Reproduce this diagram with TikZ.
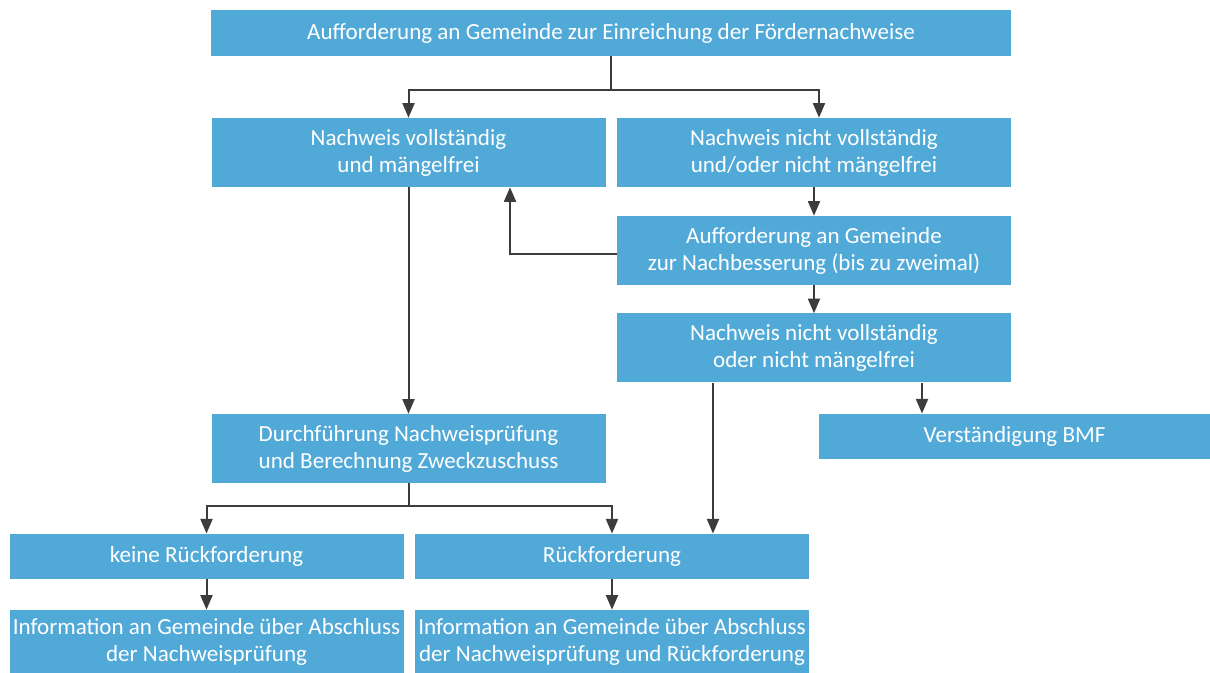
\documentclass[tikz,border=0pt]{standalone}
\usepackage{fontspec}
\setmainfont{Carlito}
\usetikzlibrary{arrows.meta,calc}
\definecolor{boxblue}{RGB}{81,169,216}
\definecolor{linegrey}{RGB}{60,60,60}
\begin{document}
\begin{tikzpicture}[x=0.75pt,y=-0.75pt,
  box/.style={fill=boxblue,draw=none,inner sep=0pt,text=white,align=center,
    font=\fontsize{17.3}{20.25}\selectfont},
  wide/.style={box,minimum width=295.5pt},
  tall/.style={minimum height=51.75pt},
  flat/.style={minimum height=34pt},
  conn/.style={draw=linegrey,line width=1.5pt},
  arr/.style={conn,-{Triangle[length=11pt,width=9pt]}}]
\useasboundingbox (0,0) rectangle (1210,673);
\node[box,minimum width=600pt,minimum height=34.5pt] (b1) at (611,33) {Aufforderung an Gemeinde zur Einreichung der Fördernachweise};
\node[wide,tall] (b2) at (408.5,152.5) {Nachweis vollständig\\und mängelfrei};
\node[wide,tall] (b3) at (814,152.5) {Nachweis nicht vollständig\\und/oder nicht mängelfrei};
\node[wide,tall] (b4) at (814,250.5) {Aufforderung an Gemeinde\\zur Nachbesserung (bis zu zweimal)};
\node[wide,tall] (b5) at (814,348) {Nachweis nicht vollständig\\oder nicht mängelfrei};
\node[box,minimum width=293.25pt,flat] (b6) at (1014.5,436.5) {Verständigung BMF};
\node[wide,tall] (b7) at (408.5,448.5) {Durchführung Nachweisprüfung\\und Berechnung Zweckzuschuss};
\node[wide,flat] (b8) at (206.5,556.5) {keine Rückforderung};
\node[wide,flat] (b9) at (612,556.5) {Rückforderung};
\node[wide,minimum height=47.25pt] (b10) at (206.5,641.5) {Information an Gemeinde über Abschluss\\der Nachweisprüfung};
\node[wide,minimum height=47.25pt] (b11) at (612,641.5) {Information an Gemeinde über Abschluss\\der Nachweisprüfung und Rückforderung};
% connectors
\coordinate (j1) at ($(b1.south)+(0,33.5)$);
\draw[conn] (b1.south) -- (j1);
\draw[arr] (j1) -| (b2.north);
\draw[arr] (j1) -| ($(b3.north)+(5,0)$);
\draw[arr] (b3.south) -- (b4.north);
\draw[arr] ($(b4.west)+(0,3.8)$) -| ($(b2.south)+(101.5,0)$);
\draw[arr] (b4.south) -- (b5.north);
\draw[arr] ($(b5.south)+(108,0)$) -- ($(b6.north)+(-92.5,0)$);
\draw[arr] ($(b5.south)+(-101,0)$) -- ($(b9.north)+(101,0)$);
\draw[arr] (b2.south) -- (b7.north);
\coordinate (j2) at ($(b7.south)+(0,22.5)$);
\draw[conn] (b7.south) -- (j2);
\draw[arr] (j2) -| (b8.north);
\draw[arr] (j2) -| (b9.north);
\draw[arr] (b8.south) -- (b10.north);
\draw[arr] (b9.south) -- (b11.north);
\end{tikzpicture}
\end{document}
